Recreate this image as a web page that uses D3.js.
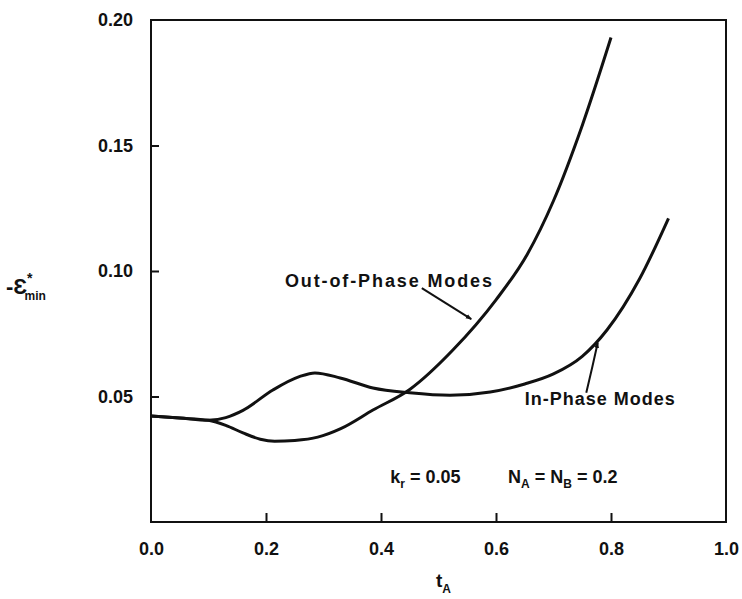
<!DOCTYPE html>
<html>
<head>
<meta charset="utf-8">
<script src="https://cdn.jsdelivr.net/npm/d3@7"></script>
<style>
  body { margin: 0; background: #fff; }
  text { font-family: "Liberation Sans", Arial, sans-serif; font-weight: bold; fill: #111; }
</style>
</head>
<body>
<div id="chart"></div>
<script>
// x ticks / y ticks
var xTicks = [0.0, 0.2, 0.4, 0.6, 0.8, 1.0];
var xTickLabels = ["0.0", "0.2", "0.4", "0.6", "0.8", "1.0"];
var yTicks = [0.05, 0.10, 0.15, 0.20];
var yTickLabels = ["0.05", "0.10", "0.15", "0.20"];

// Out-of-Phase Modes curve
var outT = [0, 0.05, 0.10, 0.13, 0.16, 0.19, 0.215, 0.25, 0.29, 0.33, 0.386, 0.45, 0.525, 0.60, 0.654, 0.70, 0.75, 0.80];
var outV = [0.0422, 0.0414, 0.0405, 0.0385, 0.0355, 0.0330, 0.0322, 0.0325, 0.0338, 0.0372, 0.0446, 0.0528, 0.0685, 0.0885, 0.1065, 0.128, 0.158, 0.193];

// In-Phase Modes curve
var inT = [0, 0.05, 0.10, 0.13, 0.16, 0.212, 0.259, 0.285, 0.329, 0.386, 0.45, 0.52, 0.59, 0.65, 0.70, 0.75, 0.793, 0.85, 0.90];
var inV = [0.0422, 0.0414, 0.0405, 0.0416, 0.0445, 0.0526, 0.0580, 0.0594, 0.0574, 0.0534, 0.0515, 0.0505, 0.0518, 0.055, 0.059, 0.066, 0.0765, 0.097, 0.121];

var svgWidth = 742;
var svgHeight = 599;
var margin = { top: 20, right: 16, bottom: 77, left: 151 };
var width = svgWidth - margin.left - margin.right;
var height = svgHeight - margin.top - margin.bottom;

var svg = d3.select("#chart")
    .append("svg")
    .attr("width", svgWidth)
    .attr("height", svgHeight);

var defs = svg.append("defs");
defs.append("marker")
    .attr("id", "arrow")
    .attr("viewBox", "0 0 10 10")
    .attr("refX", 9)
    .attr("refY", 5)
    .attr("markerWidth", 6)
    .attr("markerHeight", 6)
    .attr("orient", "auto")
    .attr("markerUnits", "userSpaceOnUse")
    .append("path")
    .attr("d", "M0,1 L10,5 L0,9 Z")
    .attr("fill", "#111");

var g = svg.append("g")
    .attr("transform", `translate(${margin.left}, ${margin.top})`);

var x = d3.scaleLinear().domain([0, 1]).range([0, width]);
var y = d3.scaleLinear().domain([0, 0.20]).range([height, 0]);

// frame
g.append("rect")
    .attr("x", 0).attr("y", 0)
    .attr("width", width).attr("height", height)
    .attr("fill", "none")
    .attr("stroke", "#111")
    .attr("stroke-width", 2);

// bottom axis, ticks pointing inward
var bottomAxis = d3.axisBottom(x)
    .tickValues(xTicks)
    .tickSizeInner(-9)
    .tickSizeOuter(0)
    .tickPadding(20)
    .tickFormat((d, i) => xTickLabels[i]);

var xAxis = g.append("g")
    .attr("transform", `translate(0, ${height})`)
    .call(bottomAxis);
xAxis.select(".domain").remove();
xAxis.selectAll(".tick line")
    .attr("stroke", "#111")
    .attr("stroke-width", 2)
    .filter(d => d === 0 || d === 1).remove();
xAxis.selectAll(".tick text")
    .attr("font-size", 18)
    .attr("font-family", "Liberation Sans, Arial, sans-serif")
    .attr("font-weight", "bold")
    .attr("fill", "#111");

// left axis
var leftAxis = d3.axisLeft(y)
    .tickValues(yTicks)
    .tickSizeInner(-8)
    .tickSizeOuter(0)
    .tickPadding(18)
    .tickFormat((d, i) => yTickLabels[i]);

var yAxis = g.append("g").call(leftAxis);
yAxis.select(".domain").remove();
yAxis.selectAll(".tick line")
    .attr("stroke", "#111")
    .attr("stroke-width", 2)
    .filter(d => d === 0.20).remove();
yAxis.selectAll(".tick text")
    .attr("font-size", 18)
    .attr("font-family", "Liberation Sans, Arial, sans-serif")
    .attr("font-weight", "bold")
    .attr("fill", "#111");

// curves
var line = d3.line()
    .x(d => x(d[0]))
    .y(d => y(d[1]))
    .curve(d3.curveMonotoneX);

g.append("path")
    .datum(outT.map((t, i) => [t, outV[i]]))
    .attr("d", line)
    .attr("fill", "none")
    .attr("stroke", "#111")
    .attr("stroke-width", 3);

g.append("path")
    .datum(inT.map((t, i) => [t, inV[i]]))
    .attr("d", line)
    .attr("fill", "none")
    .attr("stroke", "#111")
    .attr("stroke-width", 3);

// labels with arrows
g.append("text")
    .attr("x", x(0.233))
    .attr("y", y(0.0936))
    .attr("font-size", 18)
    .attr("textLength", 207)
    .text("Out-of-Phase Modes");

g.append("path")
    .attr("d", `M${x(0.471)},${y(0.0932)} L${x(0.557)},${y(0.0808)}`)
    .attr("fill", "none")
    .attr("stroke", "#111")
    .attr("stroke-width", 2)
    .attr("marker-end", "url(#arrow)");

g.append("text")
    .attr("x", x(0.650))
    .attr("y", y(0.0466))
    .attr("font-size", 18)
    .attr("textLength", 150)
    .text("In-Phase Modes");

g.append("path")
    .attr("d", `M${x(0.757)},${y(0.0515)} Q${x(0.768)},${y(0.062)} ${x(0.777)},${y(0.0715)}`)
    .attr("fill", "none")
    .attr("stroke", "#111")
    .attr("stroke-width", 2)
    .attr("marker-end", "url(#arrow)");

// parameters
var params = g.append("text")
    .attr("x", x(0.416))
    .attr("y", y(0.0155))
    .attr("font-size", 18);
params.append("tspan").text("k");
params.append("tspan").attr("font-size", 12).attr("dy", 5).text("r");
params.append("tspan").attr("dy", -5).text(" = 0.05");

var params2 = g.append("text")
    .attr("x", x(0.621))
    .attr("y", y(0.0155))
    .attr("font-size", 18);
params2.append("tspan").text("N");
params2.append("tspan").attr("font-size", 12).attr("dy", 5).text("A");
params2.append("tspan").attr("dy", -5).text(" = N");
params2.append("tspan").attr("font-size", 12).attr("dy", 5).text("B");
params2.append("tspan").attr("dy", -5).text(" = 0.2");

// axis titles
var xTitle = svg.append("text")
    .attr("x", 436)
    .attr("y", 587)
    .attr("font-size", 19);
xTitle.append("tspan").text("t");
xTitle.append("tspan").attr("font-size", 12).attr("dy", 6).text("A");

var yTitle = svg.append("text")
    .attr("x", 6)
    .attr("y", 294)
    .attr("font-size", 22);
yTitle.append("tspan").text("-Ɛ");
yTitle.append("tspan").attr("font-size", 14).attr("dy", -11).text("*");
yTitle.append("tspan").attr("font-size", 12).attr("dx", -8).attr("dy", 17).text("min");
</script>
</body>
</html>
